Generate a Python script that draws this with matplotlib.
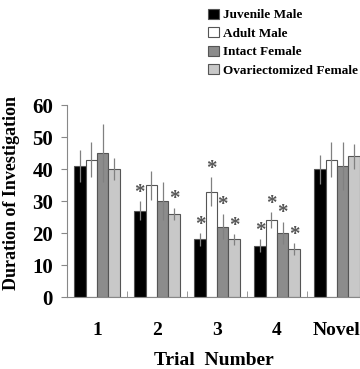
import matplotlib.pyplot as plt
import matplotlib.patches as mpatches
import numpy as np

trials = ['1', '2', '3', '4', 'Novel']
groups = ['Juvenile Male', 'Adult Male', 'Intact Female', 'Ovariectomized Female']

juvenile = [41, 27, 18, 16, 40]
adult = [43, 35, 33, 24, 43]
intact = [45, 30, 22, 20, 41]
ovx = [40, 26, 18, 15, 44]

juvenile_err = [5, 3, 2, 2, 4.5]
adult_err = [5.5, 4.5, 4.5, 2.5, 5.5]
intact_err = [9, 6, 4, 3.5, 7.5]
ovx_err = [3.5, 2, 1.7, 1.8, 4]

# asterisk flags (significant vs. trial 1)
juvenile_sig = [0, 1, 1, 1, 0]
adult_sig = [0, 0, 1, 1, 0]
intact_sig = [0, 0, 1, 1, 0]
ovx_sig = [0, 1, 1, 1, 0]

colors = ['#000000', '#ffffff', '#8c8c8c', '#c8c8c8']

plt.rcParams['font.family'] = ['Liberation Serif', 'DejaVu Serif']
plt.rcParams['font.weight'] = 'bold'

fig = plt.figure(figsize=(3.6, 3.69), dpi=100)
ax = fig.add_axes([0.186, 0.195, 0.814, 0.52])

x = np.arange(len(trials))
width = 0.19
series = [(juvenile, juvenile_err, juvenile_sig),
          (adult, adult_err, adult_sig),
          (intact, intact_err, intact_sig),
          (ovx, ovx_err, ovx_sig)]

for i, (vals, errs, sig) in enumerate(series):
    pos = x + (i - 1.5) * width
    ax.bar(pos, vals, width, color=colors[i], edgecolor='#555555', linewidth=0.8, zorder=2)
    ax.errorbar(pos, vals, yerr=errs, fmt='none', ecolor='#808080', elinewidth=0.9,
                capsize=0, zorder=3)
    for p, v, e, s in zip(pos, vals, errs, sig):
        if s:
            ax.text(p, v + e - 0.5, '*', ha='center', va='bottom', fontsize=15,
                    color='#555555', zorder=4)

ax.set_xlim(-0.5, 4.383)
ax.set_ylim(0, 60)
ax.set_yticks(range(0, 61, 10))
ax.set_xticks(x)
ax.set_xticklabels(trials)
ax.set_xticks(np.arange(len(trials)) - 0.5, minor=True)
ax.tick_params(axis='x', which='major', length=0, pad=18, labelsize=14)
ax.tick_params(axis='x', which='minor', length=4, color='#888888', direction='in')
ax.tick_params(axis='y', length=4, color='#888888', labelsize=15, pad=6)

for side in ['top', 'right']:
    ax.spines[side].set_visible(False)
for side in ['left', 'bottom']:
    ax.spines[side].set_color('#888888')

ax.set_xlabel('Trial  Number', fontsize=14, fontweight='bold', labelpad=9)
ax.set_ylabel('Duration of Investigation', fontsize=13, fontweight='bold')
ax.yaxis.set_label_coords(-0.16, 0.54)

handles = [mpatches.Patch(facecolor=c, edgecolor='#555555', linewidth=0.8) for c in colors]
fig.legend(handles, groups, loc='upper left', bbox_to_anchor=(0.555, 1.0),
           frameon=False, handlelength=0.8, handleheight=0.8,
           handletextpad=0.3, labelspacing=0.45, borderaxespad=0.25,
           prop={'family': ['Liberation Serif'], 'weight': 'bold', 'size': 9.5})

fig.savefig('out.png', dpi=100)
